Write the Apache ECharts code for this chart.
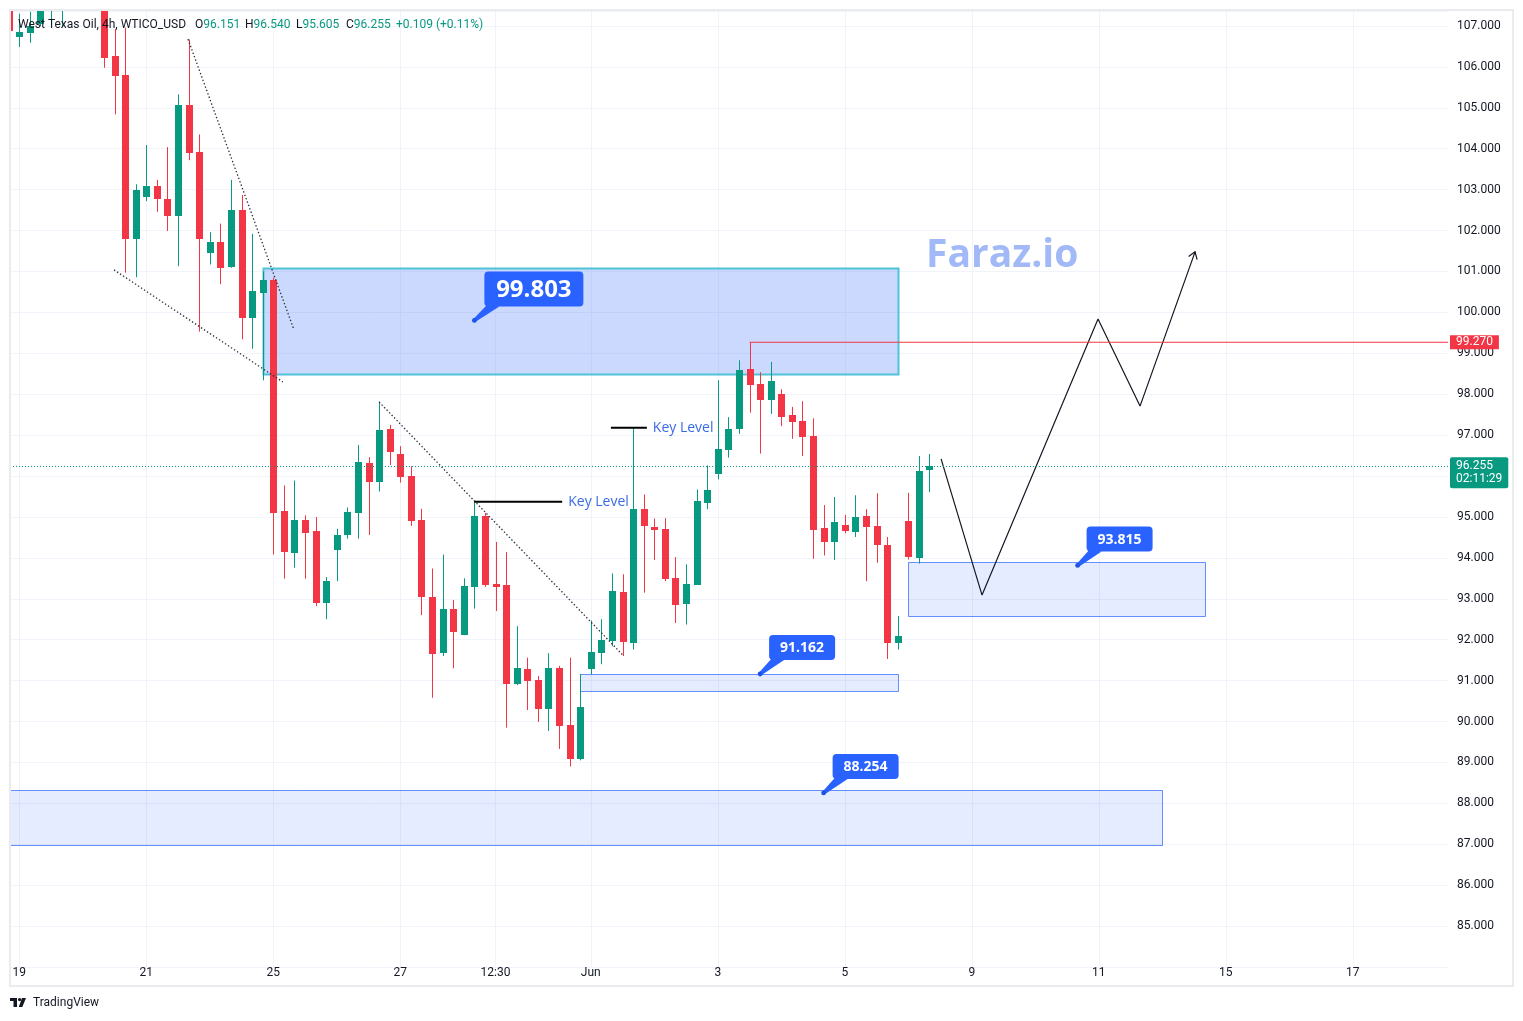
<!DOCTYPE html>
<html>
<head>
<meta charset="utf-8">
<script src="https://cdn.jsdelivr.net/npm/echarts@6/dist/echarts.min.js"></script>
<style>
html,body{margin:0;padding:0;background:#ffffff;}
#chart{width:1523px;height:1021px;}
</style>
</head>
<body>
<div id="chart"></div>
<script>
// ---------------- DATA ----------------
const candleIndex = [-1,0,1,2,3,4,5,6,7,8,9,10,11,12,13,14,15,16,17,18,19,20,21,22,23,24,25,26,27,28,29,30,31,32,33,34,35,36,37,38,39,40,41,42,43,44,45,46,47,48,49,50,51,52,53,54,55,56,57,58,59,60,61,62,63,64,65,66,67,68,69,70,71,72,73,74,75,76,77,78,79,80,81,82,83,84,85,86];
const opens = [107.60,106.74,106.84,107.04,107.55,107.90,108.00,108.40,108.20,107.90,
  106.27,105.80,101.80,102.83,103.09,102.77,102.36,105.07,103.92,101.46,
  101.72,101.12,102.50,99.87,100.48,100.79,95.14,94.12,94.92,94.66,
  92.90,94.19,94.56,95.10,96.33,95.86,97.14,96.55,96.00,94.92,
  93.04,91.68,92.75,92.11,93.29,95.02,93.37,93.34,90.91,91.29,
  91.01,90.31,91.31,89.91,89.09,91.28,91.68,91.97,93.16,91.93,
  95.19,94.75,94.70,93.50,92.88,93.34,95.35,96.04,96.64,97.14,
  98.61,98.26,97.86,98.01,97.49,97.34,96.99,94.72,94.39,94.80,
  94.64,95.02,94.78,94.31,91.93,94.90,93.99,96.151];
const closes = [106.88,106.85,107.00,107.50,107.90,108.00,108.40,108.20,108.00,106.23,
  105.78,101.80,102.99,103.09,102.78,102.36,105.07,103.90,101.80,101.72,
  101.09,102.50,99.87,100.52,100.79,95.10,94.15,94.92,94.61,92.90,
  93.43,94.57,95.12,96.34,95.86,97.12,96.59,95.98,94.90,93.04,
  91.66,92.75,92.19,93.31,95.02,93.34,93.29,90.92,91.31,90.99,
  90.31,91.31,89.89,89.09,90.35,91.70,91.99,93.19,91.95,95.19,
  94.78,94.68,93.48,92.85,93.37,95.40,95.67,96.65,97.14,98.59,
  98.22,97.86,98.32,97.44,97.32,96.95,94.68,94.39,94.88,94.66,
  95.00,94.76,94.31,91.93,92.08,94.02,96.12,96.255];
const lows = [106.80,106.49,106.59,107.00,107.00,107.00,107.60,107.80,107.60,105.98,
  104.84,100.97,100.86,102.72,102.46,101.99,101.13,103.72,99.53,101.17,
  100.69,101.09,99.34,99.11,98.34,94.08,93.49,93.76,93.49,92.82,
  92.50,93.43,94.47,94.47,94.56,95.62,96.27,95.84,94.78,92.60,
  90.58,91.60,91.30,92.11,92.76,93.29,92.70,89.85,90.89,90.28,
  89.99,89.77,89.33,88.90,89.05,91.15,91.40,91.84,91.60,91.76,
  93.15,93.95,93.43,92.41,92.37,93.34,95.19,95.92,96.45,97.03,
  97.55,96.55,97.52,97.22,96.91,96.49,93.98,94.06,93.95,94.60,
  94.51,93.43,93.88,91.53,91.76,93.96,93.86,95.605];
const highs = [107.80,107.30,107.35,107.80,108.10,108.20,108.80,108.90,108.60,108.20,
  106.92,106.96,103.13,104.09,103.24,104.04,105.33,106.67,104.35,101.96,
  102.17,103.24,102.87,101.92,101.00,100.85,95.77,95.89,95.04,95.00,
  93.53,94.71,95.23,96.76,96.46,97.82,97.25,96.73,96.24,95.20,
  93.74,94.08,92.97,93.50,95.37,95.10,94.39,94.14,92.33,91.56,
  91.11,91.67,91.36,91.56,91.16,92.47,92.50,93.62,93.60,97.18,
  95.55,94.96,94.97,94.02,93.84,95.67,96.26,98.34,97.44,98.83,
  99.27,98.54,98.79,98.12,97.69,97.83,97.41,95.29,95.49,95.05,
  95.53,95.19,95.58,94.51,92.58,95.59,96.49,96.540];

const xTickIndex  = [0,12,24,36,45,54,66,78,90,102,114,126];
const xTickLabels = ['19','21','25','27','12:30','Jun','3','5','9','11','15','17'];

// drawings (in data space: candle index / price)
const zoneStart  = [23, 84, 53, -2];
const zoneEnd    = [83, 112, 83, 108];
const zoneTop    = [101.08, 93.90, 91.16, 88.32];
const zoneBottom = [98.49, 92.58, 90.74, 86.98];

const calloutX     = [43, 100, 70, 76];
const calloutPrice = [99.803, 93.815, 91.162, 88.254];

const keyLevelStart = [43, 55.9];
const keyLevelEnd   = [51.3, 59.3];
const keyLevelPrice = [95.37, 97.18];

const trendA = [[15.94, 106.68], [25.96, 99.57]];
const trendB = [[8.95, 101.04], [24.9, 98.30]];
const trendC = [[34.0, 97.81], [57.04, 91.62]];

const projX = [87.1, 90.97, 101.93, 105.9, 111.1];
const projY = [96.42, 93.09, 99.84, 97.71, 101.48];

const resistanceStart = 69;
const resistancePrice = 99.27;
const lastPrice = 96.255;
const countdown = '02:11:29';

// ---------------- STYLE / LAYOUT ----------------
const X_MIN = -0.879, X_MAX = 135.0;
const UP = '#089981', DOWN = '#f23645', TXT = '#131722', GRID = '#f0f3fa', BLUE = '#2962ff';
const FONT = 'Roboto, "Noto Sans", sans-serif';
const FONT2 = '"Open Sans", Roboto, sans-serif';
const ZONE_STRONG = {fill: 'rgba(41,98,255,0.24)', stroke: '#4fc4d8', lw: 2};
const ZONE_LIGHT  = {fill: 'rgba(41,98,255,0.12)', stroke: 'rgba(41,98,255,0.7)', lw: 1};
const CALLOUT_BIG   = {dx: 10, dy: -49, w: 99, h: 35, font: 'bold 24px ' + FONT2};
const CALLOUT_SMALL = {dx: 9,  dy: -39, w: 66, h: 25, font: 'bold 14px ' + FONT2};

const candleData = candleIndex.map((x, i) => [x, opens[i], closes[i], lows[i], highs[i]]);
const zoneData = zoneStart.map((s, i) => [s, zoneEnd[i], zoneTop[i], zoneBottom[i]]);
const calloutData = calloutX.map((x, i) => [x, calloutPrice[i]]);

function lineSeries(data, style, z, extra) {
  return Object.assign({
    type: 'line', data: data, symbol: 'none', showSymbol: false, silent: true, z: z,
    lineStyle: style, animation: false
  }, extra || {});
}

const keyLabel = {show: true, formatter: 'Key Level', color: '#3a6be6', fontSize: 14, fontFamily: FONT2, distance: 6};

const series = [
  {
    type: 'custom', name: 'zones', data: zoneData, clip: true, z: 1, silent: true,
    encode: {x: [0, 1], y: [2, 3]},
    renderItem: function (params, api) {
      const p1 = api.coord([api.value(0), api.value(2)]);
      const p2 = api.coord([api.value(1), api.value(3)]);
      const s = params.dataIndex === 0 ? ZONE_STRONG : ZONE_LIGHT;
      const x1 = Math.round(p1[0]) + 0.5, y1 = Math.round(p1[1]) + 0.5;
      const x2 = Math.round(p2[0]) + 0.5, y2 = Math.round(p2[1]) + 0.5;
      return {type: 'rect', shape: {x: x1, y: y1, width: x2 - x1, height: y2 - y1},
              style: {fill: s.fill, stroke: s.stroke, lineWidth: s.lw}};
    }
  },
  {
    type: 'custom', name: 'WTICO_USD', data: candleData, clip: true, z: 2, silent: true,
    encode: {x: 0, y: [1, 2, 3, 4]},
    renderItem: function (params, api) {
      const x = api.value(0), o = api.value(1), c = api.value(2), l = api.value(3), h = api.value(4);
      const pO = api.coord([x, o]), pC = api.coord([x, c]);
      const pL = api.coord([x, l]), pH = api.coord([x, h]);
      const color = c >= o ? UP : DOWN;
      const px = Math.round(pO[0]);
      const top = Math.round(Math.min(pO[1], pC[1]));
      const bot = Math.round(Math.max(pO[1], pC[1]));
      return {type: 'group', children: [
        {type: 'line', shape: {x1: px + 0.5, y1: pH[1], x2: px + 0.5, y2: pL[1]},
         style: {stroke: color, lineWidth: 1}},
        {type: 'rect', shape: {x: px - 3, y: top, width: 7, height: Math.max(bot - top, 1)},
         style: {fill: color}}
      ]};
    }
  },
  lineSeries(trendA, {color: '#2a2e39', width: 1.3, type: [1.4, 2.2]}, 3),
  lineSeries(trendB, {color: '#2a2e39', width: 1.3, type: [1.4, 2.2]}, 3),
  lineSeries(trendC, {color: '#2a2e39', width: 1.3, type: [1.4, 2.2]}, 3),
  lineSeries([[keyLevelStart[0], keyLevelPrice[0]], [keyLevelEnd[0], keyLevelPrice[0]]],
    {color: '#000000', width: 2}, 4, {endLabel: keyLabel}),
  lineSeries([[keyLevelStart[1], keyLevelPrice[1]], [keyLevelEnd[1], keyLevelPrice[1]]],
    {color: '#000000', width: 2}, 4, {endLabel: keyLabel}),
  lineSeries(projX.map((x, i) => [x, projY[i]]), {color: '#131722', width: 1.2}, 4),
  {
    type: 'custom', name: 'arrow', clip: true, z: 4, silent: true,
    data: [[projX[3], projY[3], projX[4], projY[4]]],
    encode: {x: [0, 2], y: [1, 3]},
    renderItem: function (params, api) {
      const a = api.coord([api.value(0), api.value(1)]);
      const b = api.coord([api.value(2), api.value(3)]);
      const ang = Math.atan2(a[1] - b[1], a[0] - b[0]);
      const len = 8, spread = 0.6;
      const l1 = [b[0] + len * Math.cos(ang + spread), b[1] + len * Math.sin(ang + spread)];
      const l2 = [b[0] + len * Math.cos(ang - spread), b[1] + len * Math.sin(ang - spread)];
      return {type: 'polyline', shape: {points: [l1, b, l2]},
              style: {stroke: '#131722', lineWidth: 1.2, fill: null}};
    }
  },
  lineSeries([[resistanceStart, resistancePrice], [X_MAX, resistancePrice]],
    {color: '#f23645', width: 1}, 4,
    {
      endLabel: {show: true, formatter: resistancePrice.toFixed(3), color: '#ffffff', fontSize: 12,
        fontFamily: FONT, backgroundColor: '#f23645', padding: [1, 6, 1, 6], distance: 2, lineHeight: 12},
      markLine: {
        silent: true, symbol: ['none', 'none'], animation: false,
        data: [{yAxis: lastPrice}],
        lineStyle: {color: UP, type: [1, 2], width: 1},
        label: {show: true, position: 'end', distance: 2, offset: [0, 7],
          formatter: lastPrice.toFixed(3) + '\n' + countdown,
          color: '#ffffff', backgroundColor: UP, padding: [3, 6, 2, 6], lineHeight: 13,
          fontSize: 12, fontFamily: FONT, borderRadius: 2}
      }
    }),
  {
    type: 'custom', name: 'callouts', data: calloutData, clip: false, z: 6, silent: true,
    encode: {x: 0, y: 1},
    renderItem: function (params, api) {
      const p = api.coord([api.value(0), api.value(1)]);
      const s = params.dataIndex === 0 ? CALLOUT_BIG : CALLOUT_SMALL;
      const bx = p[0] + s.dx, by = p[1] + s.dy;
      return {type: 'group', children: [
        {type: 'polygon', shape: {points: [[p[0] - 1.2, p[1] - 1.2], [p[0] + 1.2, p[1] + 1.2],
          [bx + 15, by + s.h], [bx + 3, by + s.h - 2]]}, style: {fill: BLUE}},
        {type: 'rect', shape: {x: bx, y: by, width: s.w, height: s.h, r: 4}, style: {fill: BLUE}},
        {type: 'text', style: {text: calloutPrice[params.dataIndex].toFixed(3), x: bx + s.w / 2, y: by + s.h / 2 + 1,
          align: 'center', verticalAlign: 'middle', fill: '#ffffff', font: s.font}},
        {type: 'circle', shape: {cx: p[0], cy: p[1], r: 2.4}, style: {fill: '#1e53e5'}}
      ]};
    }
  }
];

const hdrRich = {a: {fill: TXT, font: '12px ' + FONT}, b: {fill: UP, font: '12px ' + FONT}};

const option = {
  animation: false,
  backgroundColor: '#ffffff',
  grid: {left: 10, right: 75, top: 11, bottom: 54, containLabel: false, outerBoundsMode: 'none'},
  xAxis: {
    type: 'value', min: X_MIN, max: X_MAX,
    axisLine: {show: false},
    axisTick: {show: false, customValues: xTickIndex},
    axisLabel: {
      customValues: xTickIndex, margin: 0, color: TXT, fontSize: 12, fontFamily: FONT,
      formatter: function (v) {
        const k = xTickIndex.indexOf(Math.round(v));
        return k >= 0 ? xTickLabels[k] : '';
      }
    },
    splitLine: {show: true, lineStyle: {color: GRID, width: 1}}
  },
  yAxis: {
    type: 'value', position: 'right', min: 84, max: 107.3667, interval: 1, scale: true,
    axisLine: {show: false}, axisTick: {show: false},
    axisLabel: {
      margin: 9, color: TXT, fontSize: 12, fontFamily: FONT,
      formatter: function (v) {
        const r = Math.round(v);
        return (Math.abs(v - r) < 1e-6 && r >= 85 && r <= 107) ? r.toFixed(3) : '';
      }
    },
    splitLine: {show: true, lineStyle: {color: GRID, width: 1}}
  },
  series: series,
  graphic: [
    {type: 'rect', silent: true, z: 100,
     shape: {x: 10, y: 10, width: 1503, height: 976},
     style: {fill: null, stroke: '#e9ebef', lineWidth: 2}},
    {type: 'text', silent: true, z: 100, x: 18, y: 25,
     style: {text: 'West Texas Oil, 4h, WTICO_USD', fill: TXT, font: '12px ' + FONT, verticalAlign: 'middle'}},
    {type: 'text', silent: true, z: 100, x: 195, y: 25,
     style: {text: '{a|O}{b|96.151}', verticalAlign: 'middle', font: '12px ' + FONT, rich: hdrRich}},
    {type: 'text', silent: true, z: 100, x: 245, y: 25,
     style: {text: '{a|H}{b|96.540}', verticalAlign: 'middle', font: '12px ' + FONT, rich: hdrRich}},
    {type: 'text', silent: true, z: 100, x: 296, y: 25,
     style: {text: '{a|L}{b|95.605}', verticalAlign: 'middle', font: '12px ' + FONT, rich: hdrRich}},
    {type: 'text', silent: true, z: 100, x: 346, y: 25,
     style: {text: '{a|C}{b|96.255}', verticalAlign: 'middle', font: '12px ' + FONT, rich: hdrRich}},
    {type: 'text', silent: true, z: 100, x: 396, y: 25,
     style: {text: '+0.109 (+0.11%)', fill: UP, font: '12px ' + FONT, verticalAlign: 'middle'}},
    {type: 'text', silent: true, z: 100, x: 926, y: 256,
     style: {text: 'Faraz.io', fill: '#a2b9f8', font: 'bold 39px ' + FONT2, verticalAlign: 'middle'}},
    // TradingView logo + wordmark
    {type: 'group', silent: true, z: 100, children: [
      {type: 'rect', shape: {x: 10, y: 998, width: 7, height: 3}, style: {fill: TXT}},
      {type: 'rect', shape: {x: 13.5, y: 998, width: 3.5, height: 9}, style: {fill: TXT}},
      {type: 'circle', shape: {cx: 19.6, cy: 999.6, r: 1.6}, style: {fill: TXT}},
      {type: 'polygon', shape: {points: [[22, 998], [26, 998], [22.3, 1007], [18.8, 1007]]}, style: {fill: TXT}}
    ]},
    {type: 'text', silent: true, z: 100, x: 33, y: 1003,
     style: {text: 'TradingView', fill: TXT, font: '12px ' + FONT, verticalAlign: 'middle'}}
  ]
};

const chart = echarts.init(document.getElementById('chart'));
chart.setOption(option);
</script>
</body>
</html>
